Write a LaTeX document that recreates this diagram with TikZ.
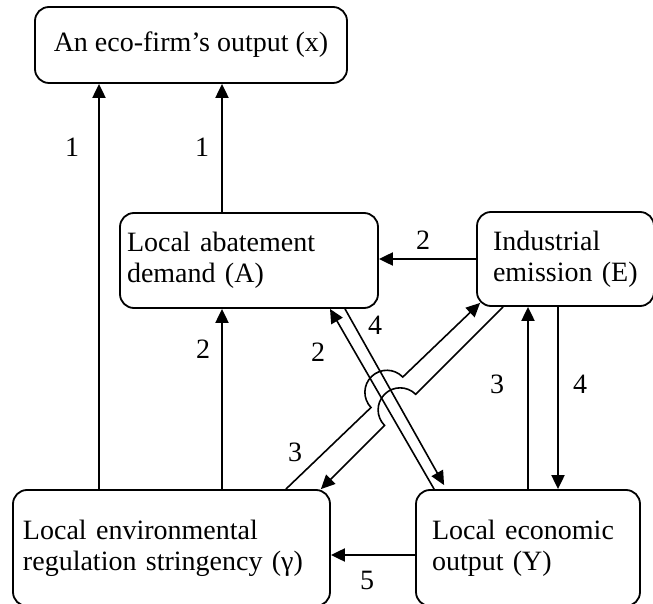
\documentclass[tikz,border=0pt]{standalone}
\usepackage{fontspec}
\setmainfont{Liberation Serif}
\usetikzlibrary{arrows.meta,calc}
\begin{document}
\begin{tikzpicture}[x=1pt,y=1pt,
        font=\fontsize{28}{31}\selectfont,
        box/.style={draw,line width=1.8pt,rounded corners=14pt,align=left,inner ysep=0pt},
        arr/.style={line width=2pt,-{Triangle[length=14pt,width=13pt]}},
        darr/.style={line width=1.6pt,-{Triangle[length=14pt,width=13pt]}},
        lbl/.style={inner sep=0pt}]
    \useasboundingbox (0,0) rectangle (653,603);

    \node[box,align=center,minimum width=312pt,minimum height=76pt] (eco) at (191,558) {An eco-firm’s output (x)};
    \node[box,text width=244pt,inner xsep=7pt,minimum height=95pt] (abate) at (249,342.5) {Local abatement\\demand (A)};
    \node[box,text width=145pt,inner xsep=16pt,minimum height=94pt] (emis) at (565.5,344) {Industrial\\emission (E)};
    \node[box,text width=297pt,inner xsep=10pt,minimum height=116pt] (reg) at (171.5,55) {Local environmental\\regulation stringency (γ)};
    \node[box,text width=192pt,inner xsep=16pt,minimum height=116pt] (econ) at (528,55) {Local economic\\output (Y)};

    % straight links
    \draw[arr] ([xshift=-72.5pt]reg.north) -- ([xshift=-72.5pt]reg.north |- eco.south);
    \draw[arr] ([xshift=-27pt]abate.north) -- ([xshift=-27pt]abate.north |- eco.south);
    \draw[arr] ([xshift=50.5pt]reg.north) -- ([xshift=50.5pt]reg.north |- abate.south);
    \draw[arr] (emis.west) -- (emis.west -| abate.east);
    \draw[arr] (econ.north) -- (econ.north |- emis.south);
    \draw[arr] ([xshift=-7.5pt]emis.south) -- ([xshift=-7.5pt]emis.south |- econ.north);
    \draw[arr] ([yshift=-7pt]econ.west) -- ([yshift=-7pt]econ.west -| reg.east);

    % crossing links
    \draw[darr] ([xshift=19pt]econ.north west) -- ([xshift=81pt]abate.south);
    \draw[darr] ([xshift=96pt]abate.south) -- ([shift={(29pt,4pt)}]econ.north west);

    \coordinate (m1s) at ([xshift=-45pt]reg.north east);
    \coordinate (m1e) at ([shift={(4pt,4pt)}]emis.south west);
    \coordinate (m2s) at ([xshift=-62.5pt]emis.south);
    \coordinate (m2e) at ([xshift=-10pt]reg.north east);
    \coordinate (h1) at ($(m1s)!0.52!(m1e)$);
    \coordinate (h2) at ($(m2s)!0.565!(m2e)$);
    \draw[darr] let \p1=($(m1e)-(m1s)$), \n1={atan2(\y1,\x1)} in
        (m1s) -- ($(h1)!22pt!(m1s)$) arc[start angle=\n1+180,end angle=\n1,radius=22pt] -- (m1e);
    \draw[darr] let \p1=($(m2e)-(m2s)$), \n1={atan2(\y1,\x1)} in
        (m2s) -- ($(h2)!22pt!(m2s)$) arc[start angle=\n1+180,end angle=\n1+360,radius=22pt] -- (m2e);

    % numbers
    \node[lbl] (l1) at (72,456) {1};
    \node[lbl] (l2) at (202,456) {1};
    \node[lbl] (l3) at (203,254) {2};
    \node[lbl] (l4) at (423,363) {2};
    \node[lbl] (l5) at (318,251) {2};
    \node[lbl] (l6) at (375,278) {4};
    \node[lbl] (l7) at (295,151) {3};
    \node[lbl] (l8) at (497,219) {3};
    \node[lbl] (l9) at (580,219) {4};
    \node[lbl] (l10) at (367,23) {5};
\end{tikzpicture}
\end{document}
